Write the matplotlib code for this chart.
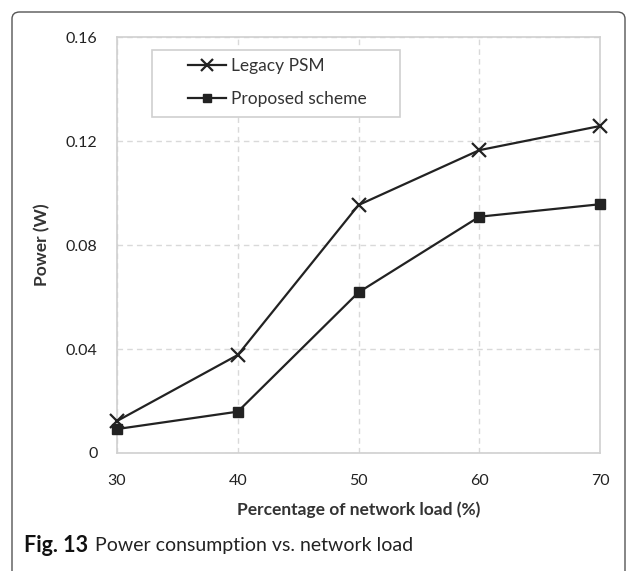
import matplotlib.pyplot as plt
from matplotlib.patches import FancyBboxPatch, Rectangle

load = [30, 40, 50, 60, 70]
legacy_psm = [0.0123, 0.0377, 0.0954, 0.1165, 0.1258]
proposed = [0.0092, 0.0159, 0.0618, 0.0909, 0.0957]
yticks = [0, 0.04, 0.08, 0.12, 0.16]
ytick_labels = ["0", "0.04", "0.08", "0.12", "0.16"]

plt.rcParams['font.family'] = ['Lato', 'DejaVu Sans']

fig = plt.figure(figsize=(6.37, 5.71), dpi=100)
ax = fig.add_axes([0.1837, 0.2067, 0.7583, 0.7283])

ax.plot(load, legacy_psm, color="#222222", lw=1.6, marker="x", ms=10, mew=1.6,
        label="Legacy PSM", clip_on=False, zorder=3)
ax.plot(load, proposed, color="#222222", lw=1.6, marker="s", ms=6.5,
        label="Proposed scheme", clip_on=False, zorder=3)

ax.set_xlim(30, 70)
ax.set_ylim(0, 0.16)
ax.set_xticks(load)
ax.set_yticks(yticks)
ax.set_yticklabels(ytick_labels)
ax.tick_params(length=0, labelsize=11.5, colors="#222222")
ax.tick_params(axis="y", pad=14)
ax.tick_params(axis="x", pad=15)
ax.grid(True, color="#d9d9d9", ls=(0, (4, 3)), lw=1)
for s in ax.spines.values():
    s.set_color("#d0d0d0")
    s.set_linewidth(1.2)

ax.set_xlabel("Percentage of network load (%)", fontsize=12.5, fontweight="bold",
              color="#333333", labelpad=10)
ax.set_ylabel("Power (W)", fontsize=12.5, fontweight="bold", color="#333333",
              labelpad=11)

# legend frame drawn separately so it can be wider than its contents
ax.add_patch(Rectangle((0.0725, 0.808), 0.5135, 0.161, transform=ax.transAxes,
                       fill=True, facecolor="white", edgecolor="#d0d0d0",
                       lw=1.2, zorder=4))
leg = ax.legend(loc="upper left", bbox_to_anchor=(0.147, 0.95), fontsize=12.5,
                frameon=False, borderpad=0, labelspacing=1.0,
                handlelength=2.2, handletextpad=0.3, borderaxespad=0)
leg.set_zorder(5)
for t in leg.get_texts():
    t.set_color("#333333")
for h in leg.legend_handles:
    h.set_markersize(h.get_markersize() * 0.85)

frame = FancyBboxPatch((12 / 637, -0.1), 613 / 637, 1.1 - 12 / 571,
                       boxstyle="round,pad=0,rounding_size=0.012",
                       transform=fig.transFigure, fill=False,
                       edgecolor="#555555", lw=1.0)
fig.patches.append(frame)

fig.text(24 / 637, 1 - 546 / 571, "Fig. 13", fontsize=15.5, fontweight="bold",
         va="center", ha="left", color="#111111")
fig.text(95 / 637, 1 - 546 / 571, "Power consumption vs. network load",
         fontsize=14, va="center", ha="left", color="#222222")

fig.savefig("out.png", dpi=100)
